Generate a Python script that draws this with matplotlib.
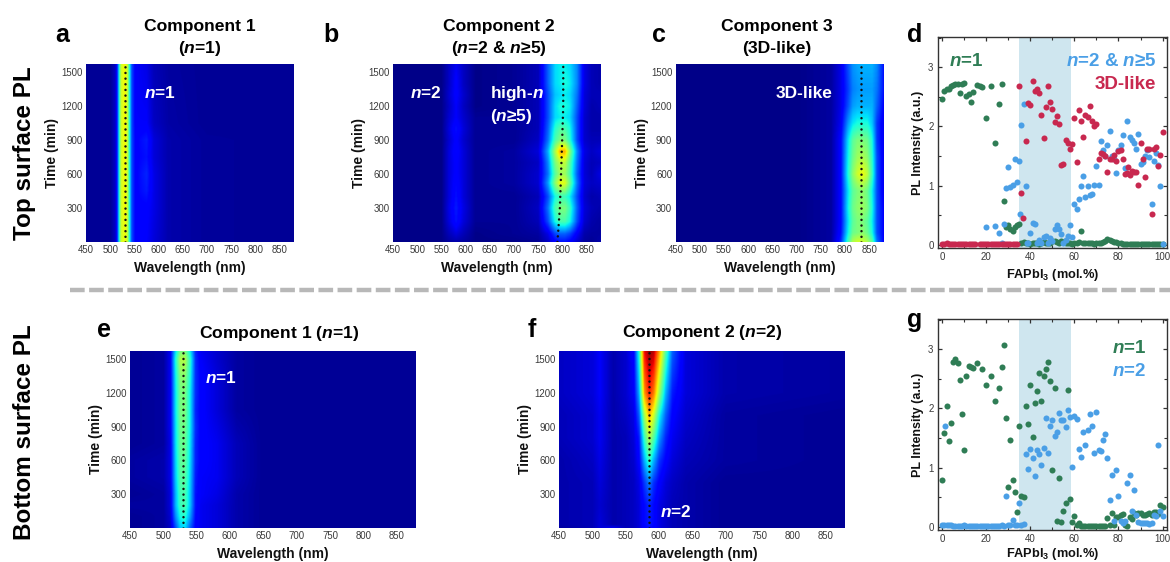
import numpy as np
import matplotlib
matplotlib.use("Agg")
import matplotlib.pyplot as plt
from matplotlib.lines import Line2D
from matplotlib.ticker import MultipleLocator

plt.rcParams.update({
    'font.family': ['Liberation Sans', 'DejaVu Sans'],
    'mathtext.fontset': 'custom',
    'mathtext.rm': 'Liberation Sans:bold',
    'mathtext.it': 'Liberation Sans:italic:bold',
    'mathtext.bf': 'Liberation Sans:bold',
    'mathtext.default': 'regular',
})

W, H = 1170, 562
GREEN, BLUE, RED = '#2f7d55', '#4a9fe6', '#c8284f'
SHADE = '#cfe6ef'
TICK = '#3a3a3a'

# ---------- heat map data: intensity read at wavelength / time nodes ----------
a_wl = [450, 500, 510, 514, 518, 522, 530, 535, 539, 544, 552, 575, 590, 620, 700, 879]
a_t = [0, 300, 450, 600, 750, 900, 1050, 1573]
a_z = [
    [.02, .02, .06, .15, .38, .60, .64, .60, .40, .20, .12, .11, .08, .04, .025, .02],
    [.02, .02, .06, .15, .38, .60, .65, .60, .40, .20, .12, .12, .09, .04, .025, .02],
    [.02, .02, .06, .15, .38, .60, .65, .60, .40, .20, .12, .15, .09, .04, .025, .02],
    [.02, .02, .06, .15, .38, .60, .65, .60, .40, .20, .12, .16, .09, .04, .025, .02],
    [.02, .02, .06, .15, .38, .60, .65, .60, .40, .20, .12, .14, .08, .04, .025, .02],
    [.02, .02, .06, .15, .38, .60, .65, .60, .40, .20, .12, .15, .08, .04, .025, .02],
    [.02, .02, .06, .15, .38, .60, .65, .60, .40, .20, .11, .11, .06, .035, .02, .02],
    [.02, .02, .06, .15, .38, .60, .65, .60, .40, .20, .11, .09, .05, .03, .02, .02],
]

b_wl = [450, 550, 565, 580, 595, 620, 700, 750, 770, 785, 795, 805, 815, 830, 845, 860, 879]
b_t = [0, 70, 180, 300, 400, 520, 600, 700, 800, 900, 1000, 1100, 1200, 1300, 1400, 1573]
b_z = [
    [.01, .01, .03, .04, .03, .01, .01, .02, .06, .12, .14, .14, .12, .07, .03, .02, .04],
    [.01, .01, .05, .08, .05, .01, .02, .03, .09, .19, .22, .22, .19, .11, .04, .03, .03],
    [.01, .01, .08, .14, .08, .02, .02, .05, .20, .38, .44, .44, .38, .20, .07, .04, .03],
    [.01, .01, .09, .15, .09, .02, .02, .06, .24, .44, .50, .50, .42, .22, .08, .05, .04],
    [.01, .01, .08, .14, .08, .02, .02, .05, .20, .38, .42, .42, .36, .20, .07, .04, .05],
    [.01, .01, .08, .13, .08, .02, .03, .07, .28, .52, .64, .62, .48, .24, .08, .06, .07],
    [.01, .01, .08, .12, .08, .02, .03, .07, .24, .46, .54, .54, .44, .22, .08, .05, .09],
    [.01, .01, .08, .12, .08, .02, .03, .06, .26, .50, .58, .58, .46, .24, .08, .05, .06],
    [.01, .01, .08, .13, .08, .02, .03, .08, .30, .56, .72, .72, .52, .26, .09, .06, .08],
    [.01, .01, .07, .12, .07, .02, .02, .06, .24, .44, .50, .50, .40, .20, .07, .05, .05],
    [.01, .01, .08, .14, .08, .02, .02, .05, .22, .40, .45, .44, .38, .20, .07, .04, .04],
    [.01, .01, .07, .11, .07, .02, .02, .05, .20, .34, .36, .36, .34, .20, .07, .04, .04],
    [.01, .01, .06, .11, .06, .01, .02, .05, .20, .34, .38, .38, .36, .22, .08, .04, .05],
    [.01, .01, .07, .12, .07, .01, .02, .05, .20, .32, .34, .36, .34, .24, .08, .05, .05],
    [.01, .01, .06, .12, .06, .01, .02, .05, .22, .34, .36, .38, .36, .26, .09, .05, .04],
    [.01, .01, .06, .10, .06, .01, .02, .05, .22, .34, .36, .36, .34, .26, .09, .05, .04],
]

c_wl = [450, 700, 770, 790, 805, 815, 825, 835, 845, 855, 865, 879]
c_t = [0, 80, 180, 300, 450, 600, 750, 900, 1050, 1200, 1350, 1573]
c_z = [
    [.01, .01, .03, .16, .42, .56, .60, .60, .56, .46, .24, .12],
    [.01, .01, .03, .13, .36, .48, .50, .52, .48, .38, .20, .12],
    [.01, .01, .03, .12, .34, .46, .50, .50, .46, .36, .20, .12],
    [.01, .01, .03, .12, .36, .48, .52, .54, .50, .38, .20, .12],
    [.01, .01, .03, .12, .34, .46, .50, .52, .48, .36, .20, .10],
    [.01, .01, .03, .12, .38, .52, .60, .64, .58, .42, .20, .10],
    [.01, .01, .03, .12, .36, .48, .54, .56, .52, .40, .20, .10],
    [.01, .01, .03, .12, .34, .46, .50, .50, .48, .38, .18, .10],
    [.01, .01, .03, .10, .27, .35, .38, .38, .38, .32, .18, .10],
    [.01, .01, .03, .09, .20, .28, .30, .30, .30, .30, .22, .12],
    [.01, .01, .03, .09, .18, .25, .27, .28, .28, .28, .24, .14],
    [.01, .01, .03, .09, .20, .27, .29, .30, .30, .30, .26, .14],
]

e_wl = [450, 500, 510, 518, 525, 532, 540, 548, 556, 580, 610, 650, 879]
e_t = [0, 100, 200, 300, 450, 600, 750, 900, 1050, 1200, 1350, 1500, 1573]
e_z = [
    [.02, .03, .06, .20, .32, .34, .22, .12, .10, .08, .04, .02, .02],
    [.02, .03, .07, .26, .38, .40, .28, .13, .10, .08, .04, .02, .02],
    [.03, .03, .08, .30, .42, .44, .32, .14, .10, .08, .04, .02, .02],
    [.02, .03, .08, .30, .43, .44, .32, .14, .11, .09, .04, .02, .02],
    [.03, .04, .09, .32, .45, .46, .33, .15, .11, .10, .05, .02, .02],
    [.03, .04, .09, .33, .46, .47, .34, .16, .12, .10, .05, .02, .02],
    [.02, .03, .09, .34, .47, .48, .35, .16, .12, .10, .05, .02, .02],
    [.02, .03, .10, .34, .48, .49, .36, .17, .12, .09, .04, .02, .02],
    [.02, .03, .10, .35, .49, .50, .36, .16, .12, .08, .03, .02, .02],
    [.02, .03, .10, .35, .49, .50, .36, .17, .12, .08, .03, .02, .02],
    [.02, .03, .10, .36, .51, .52, .38, .17, .12, .08, .03, .02, .02],
    [.02, .03, .10, .38, .56, .57, .40, .17, .11, .07, .03, .02, .02],
    [.02, .03, .10, .34, .49, .50, .36, .16, .10, .07, .03, .02, .02],
]

f_wl = [450, 500, 511, 531, 550, 562, 570, 578, 585, 592, 600, 610, 620, 640, 700, 879]
f_t = [0, 30, 200, 400, 600, 800, 1000, 1200, 1573]
f_z = [
    [.03, .05, .08, .10, .05, .06, .08, .12, .14, .12, .09, .07, .05, .04, .02, .02],
    [.04, .05, .08, .04, .05, .06, .08, .13, .15, .13, .09, .07, .05, .04, .02, .02],
    [.04, .05, .07, .04, .05, .06, .08, .13, .16, .13, .09, .07, .05, .04, .02, .02],
    [.04, .05, .08, .04, .05, .06, .09, .18, .25, .17, .12, .08, .06, .04, .02, .02],
    [.04, .06, .09, .04, .05, .07, .12, .30, .42, .30, .18, .12, .08, .05, .03, .02],
    [.05, .07, .10, .04, .05, .08, .15, .42, .57, .45, .28, .16, .10, .06, .03, .02],
    [.05, .07, .10, .04, .06, .09, .22, .55, .72, .60, .38, .22, .12, .07, .03, .02],
    [.06, .08, .11, .04, .07, .11, .30, .75, .88, .78, .55, .30, .15, .08, .04, .03],
    [.06, .08, .11, .04, .07, .12, .40, .90, .98, .95, .75, .45, .22, .08, .04, .03],
]

# dotted peak traces: (wavelength, time)
a_peak_wl, a_peak_t = [530, 530], [0, 1573]
b_peak_wl, b_peak_t = [790, 795, 799, 802, 802], [0, 300, 800, 1200, 1573]
c_peak_wl, c_peak_t = [832, 832], [0, 1573]
e_peak_wl, e_peak_t = [530, 530], [0, 1573]
f_peak_wl, f_peak_t = [585, 585], [0, 1573]

wl_ticks = [450, 500, 550, 600, 650, 700, 750, 800, 850]
t_ticks = [300, 600, 900, 1200, 1500]

# ---------- scatter data ----------
d_green_x = [0, 1, 2, 3, 4, 5, 6, 7, 8, 9, 10, 11, 12, 13, 14, 16, 17, 18, 20, 22, 24, 26, 27, 28, 29, 30, 31, 32, 33, 34, 35,
             36, 37, 38, 39, 40, 41, 42, 43, 44, 45, 46, 47, 48, 49, 50, 51, 52, 53, 54, 55, 56, 57, 58, 59, 60, 61, 62, 63, 64, 65,
             66, 67, 68, 69, 70, 71, 72, 73, 74, 75, 76, 77, 78, 79, 80, 81, 82, 83, 84, 85, 86, 87, 88, 89, 90, 91, 92, 93, 94, 95, 96, 97, 98, 99, 100]
d_green_y = [2.46, 2.6, 2.63, 2.64, 2.68, 2.7, 2.71, 2.72, 2.57, 2.72, 2.73, 2.52, 2.54, 2.42, 2.58, 2.7, 2.68, 2.67, 2.14, 2.68, 1.72, 2.38, 2.72, .75, .3, .33, .27, .23, .3, .34, .36,
             .03, .05, .04, .03, .02, .03, .04, .03, .02, .03, .05, .04, .03, .04, .06, .07, .05, .04, .06, .05, .04, .03, .04, .02, .03, .04, .05, .23, .04, .03,
             .04, .03, .03, .02, .03, .03, .04, .05, .07, .1, .08, .07, .05, .05, .03, .03, .02, .02, .02, .02, .02, .02, .02, .02, .02, .02, .02, .02, .02, .02, .02, .02, .02, .02, .02]
d_blue_x = [20, 24, 26, 27, 28, 29, 30, 31, 32, 33, 34, 35, 35.5, 36, 37, 38, 38.5, 39, 40, 41, 42, 43, 44, 45, 46, 47, 48, 49, 50, 51, 52, 53, 54, 55, 56, 57, 58, 59,
            60, 61, 62, 63, 64, 65, 66, 67, 68, 69, 70, 71, 72, 73, 74, 75, 76, 77, 78, 79, 80, 81, 82, 83, 84, 85, 86, 87, 88, 89, 90, 91, 92, 93, 94, 95, 96, 97, 98, 99, 100]
d_blue_y = [.31, .32, .2, .03, .35, .96, 1.31, .98, 1.02, 1.46, 1.06, 1.41, .52, 2.03, 2.38, 1.0, .03, .04, .2, .37, .35, .03, .08, .03, .14, .15, .03, .12, .06, .27, .33, .27, .19, .03, .08, .16, .33, .14,
            .7, .6, .77, .99, 1.16, .81, .99, .85, .86, 1.02, 1.34, 1.01, 1.75, 1.6, 1.5, 1.69, 1.93, 1.5, 1.45, 1.22, 1.6, 1.69, 1.85, 1.3, 2.09, 1.83, 1.78, 1.72, 1.62, 1.87, 1.36, 1.4, 1.5, 1.6, 1.48, .69, 1.42, 1.55, 1.35, 1.0, .02]
d_red_x = [0, 1, 2, 3, 4, 5, 6, 7, 8, 9, 10, 11, 12, 13, 14, 15, 17, 18, 19, 20, 21, 22, 23, 24, 25, 26, 27, 28, 29, 30, 31, 32, 33, 34,
           35, 36, 36.5, 38, 39, 40, 41, 42, 43, 44, 45, 46, 47, 48, 49, 50, 51, 52, 53, 54, 55, 56, 57, 58, 59, 60, 61, 62, 63, 64, 65, 66, 67, 68, 69, 70,
           71, 72, 73, 74, 75, 76, 77, 78, 79, 80, 81, 82, 83, 84, 84.5, 85, 86, 87, 88, 89, 90, 91, 92, 93, 94, 95, 96, 97, 98, 99, 100]
d_red_y = [.02, .02, .03, .02, .02, .02, .02, .02, .02, .02, .02, .02, .02, .02, .02, .02, .02, .02, .02, .02, .02, .02, .02, .02, .02, .02, .02, .02, .02, .02, .02, .02, .02, .02,
           2.68, .88, .46, 1.75, 2.4, 2.37, 2.77, 2.6, 2.63, 2.57, 2.19, 1.8, 2.33, 2.68, 2.41, 2.3, 2.08, 2.17, 2.04, 1.35, 1.37, 1.78, 1.72, 1.62, 1.7, 2.15, 1.4, 2.28, 2.1, 1.83, 2.2, 2.16, 2.34, 2.1, 2.0, 2.05,
           1.45, 1.55, 1.53, 1.5, 1.24, 1.45, 1.45, 1.52, 1.42, 1.58, 1.6, 1.45, 1.2, 1.22, 1.32, 1.18, 1.25, 1.23, 1.23, 1.02, 1.72, 1.45, 1.14, 1.62, 1.62, .52, 1.62, 1.65, 1.33, 1.52, 1.9]

g_green_x = [0, 1, 2, 3, 4, 5, 6, 7, 8, 9, 10, 11, 12, 13, 14, 16, 18, 20, 22, 24, 26, 27, 28, 29, 30, 31, 32, 33, 34, 35, 36, 37, 38, 39, 40, 41, 42, 43, 44, 45, 46, 47, 48, 49, 50, 51, 52, 53, 54, 55, 56, 57, 58, 59, 60, 61, 62,
             63, 64, 65, 66, 67, 68, 69, 70, 71, 72, 73, 74, 75, 76, 77, 78, 79, 80, 81, 82, 83, 84, 85, 86, 87, 88, 89, 90, 91, 92, 93, 94, 95, 96, 97, 98, 99, 100]
g_green_y = [.8, 1.58, 2.05, 1.45, 1.76, 2.79, 2.84, 2.76, 2.48, 1.91, 1.3, 2.54, 2.72, 2.7, 2.68, 2.77, 2.67, 2.4, 2.54, 2.12, 2.35, 2.7, 3.07, 1.84, .67, 1.47, .8, .59, .26, 1.7, .53, .5, 2.04, 1.73, 2.4, 1.52, 2.1, 2.29, 2.6, 2.12, 2.55, 2.66, 2.78, 2.47, .97, 2.34, .1, .82, .09, .27, .4, 2.32, .48, .09, .18, .03, .06,
             .02, .02, .02, .02, .02, .02, .02, .02, .02, .02, .02, .02, .16, .04, .24, .04, .17, .17, .2, .22, .04, .02, .17, .13, .24, .2, .24, .24, .2, .2, .22, .24, .2, .26, .26, .22, .37, .33]
g_blue_x = [0, 1, 1.5, 2, 3, 4, 5, 6, 7, 8, 9, 10, 11, 12, 13, 14, 15, 16, 17, 18, 19, 20, 21, 22, 23, 24, 25, 26, 27, 28, 29, 30, 31, 32, 33, 34, 35, 36, 37, 38, 39, 40, 41, 42, 43, 44, 45, 46, 47, 48, 49, 50, 51, 52, 53, 54, 55, 56, 57, 58, 59, 60, 61,
            62, 63, 64, 65, 66, 67, 68, 69, 70, 71, 72, 73, 74, 75, 76, 77, 78, 79, 80, 81, 82, 83, 84, 85, 86, 87, 88, 89, 90, 91, 92, 93, 94, 95, 96, 97, 98, 99, 100]
g_blue_y = [.03, .04, 1.7, .03, .03, .03, .02, .02, .02, .02, .02, .03, .02, .02, .02, .02, .02, .02, .02, .02, .02, .02, .02, .02, .02, .02, .02, .02, .03, .02, .52, .03, .03, .12, .03, .03, .4, .04, .05, 1.23, .98, 1.32, 1.16, .86, 1.3, 1.24, 1.05, 1.33, 1.84, 1.25, 1.7, 1.8, 1.54, 1.6, 1.92, 1.8, 1.81, 1.68, 1.97, 1.86, 1.01, 1.88, 1.82,
            1.32, 1.19, 1.6, 1.38, 1.64, 1.91, 1.7, 1.25, 1.94, 1.3, 1.28, 1.47, 1.57, 1.17, .46, .88, .1, .96, .52, .1, .07, .1, .75, .87, .27, .63, .2, .08, .07, .06, .07, .07, .05, .07, .2, .18, 1.39, .27, .18]

window = (35, 58.5)

fig = plt.figure(figsize=(W / 100, H / 100), dpi=100, facecolor='white')


def box(x0, y0, x1, y1):
    return [x0 / W, 1 - y1 / H, (x1 - x0) / W, (y1 - y0) / H]


def T(x, y, s, **kw):
    kw.setdefault('ha', 'left')
    kw.setdefault('va', 'baseline')
    kw.setdefault('fontweight', 'bold')
    kw.setdefault('color', 'black')
    return fig.text(x / W, 1 - y / H, s, **kw)


def heat(rect, wl, t, z, peak_wl, peak_t):
    ax = fig.add_axes(box(*rect))
    z = np.asarray(z, float)
    gx = np.arange(450, 880, 1.0)
    gy = np.arange(0, 1575, 5.0)
    byrow = np.array([np.interp(gx, wl, r) for r in z])
    grid = np.array([np.interp(gy, t, c) for c in byrow.T]).T
    ax.imshow(grid, cmap='jet', vmin=0, vmax=1, origin='lower', aspect='auto',
              extent=(450, 879, 0, 1573), interpolation='bilinear')
    ax.plot(peak_wl, peak_t, color='#101010', lw=1.8, linestyle=(0, (0.01, 2.25)),
            dash_capstyle='round')
    ax.set_xlim(450, 879)
    ax.set_ylim(0, 1573)
    ax.set_xticks(wl_ticks)
    ax.set_yticks(t_ticks)
    ax.tick_params(length=0, labelsize=6.9, labelcolor=TICK, pad=2.5)
    for s in ax.spines.values():
        s.set_visible(False)
    ax.set_xlabel('Wavelength (nm)', fontsize=10, fontweight='bold', labelpad=4, color='#111111')
    ax.set_ylabel('Time (min)', fontsize=10, fontweight='bold', labelpad=1.5, color='#111111')
    return ax


heat((86, 64, 293.5, 242), a_wl, a_t, a_z, a_peak_wl, a_peak_t)
heat((393, 64, 600.5, 242), b_wl, b_t, b_z, b_peak_wl, b_peak_t)
heat((675.7, 64, 883.3, 242), c_wl, c_t, c_z, c_peak_wl, c_peak_t)
heat((130, 351, 416, 528), e_wl, e_t, e_z, e_peak_wl, e_peak_t)
heat((559, 351, 845, 528), f_wl, f_t, f_z, f_peak_wl, f_peak_t)


def scat(rect, series, xlabel, xpad):
    ax = fig.add_axes(box(*rect))
    ax.axvspan(*window, color=SHADE, lw=0, zorder=0)
    for i, (x, y, c) in enumerate(series):
        ax.scatter(x, y, s=19, color=c, lw=0, zorder=2 + i, clip_on=False)
    ax.set_xlim(-2, 102)
    ax.set_ylim(-0.05, 3.51)
    ax.set_xticks([0, 20, 40, 60, 80, 100])
    ax.set_yticks([0, 1, 2, 3])
    ax.xaxis.set_minor_locator(MultipleLocator(10))
    ax.yaxis.set_minor_locator(MultipleLocator(0.5))
    ax.tick_params(which='major', direction='in', length=3, width=0.9, color='#333333',
                   labelsize=7, labelcolor=TICK, pad=3, top=True, right=True)
    ax.tick_params(which='minor', direction='in', length=2, width=0.8, color='#333333', top=True, right=True)
    for s in ax.spines.values():
        s.set_linewidth(1.0)
        s.set_color('#333333')
    ax.set_xlabel(xlabel, fontsize=9.2, fontweight='bold', labelpad=xpad, color='#111111')
    ax.set_ylabel('PL Intensity (a.u.)', fontsize=9.0, fontweight='bold', labelpad=3, color='#111111')
    return ax


scat((937.7, 37, 1167, 248),
     [(d_green_x, d_green_y, GREEN), (d_blue_x, d_blue_y, BLUE), (d_red_x, d_red_y, RED)],
     'FAPbI$_3$ (mol.%)', 3.2)
scat((937.7, 319, 1167, 530),
     [(g_green_x, g_green_y, GREEN), (g_blue_x, g_blue_y, BLUE)],
     'FAPbI$_3$ (mol.%)', 1.0)

# panel letters
for x, y, s in [(55, 42, 'a'), (323, 42, 'b'), (652, 42, 'c'), (907, 42, 'd'),
                (97, 337, 'e'), (528, 337, 'f'), (907, 327, 'g')]:
    T(x, y, s, fontsize=18)

# titles
for x, y, s in [(200, 31, 'Component 1'), (200, 53, '($\\mathit{n}$=1)'),
                (499, 31, 'Component 2'), (499, 53, '($\\mathit{n}$=2 & $\\mathit{n}$≥5)'),
                (777, 31, 'Component 3'), (777, 53, '(3D-like)'),
                (279, 338, 'Component 1 ($\\mathit{n}$=1)'),
                (702, 337, 'Component 2 ($\\mathit{n}$=2)')]:
    T(x, y, s, fontsize=12.6, ha='center')

# white annotations on maps
for x, y, s in [(144, 98, '$\\mathit{n}$=1'), (410, 98, '$\\mathit{n}$=2'),
                (490, 98, 'high-$\\mathit{n}$'), (490, 121, '($\\mathit{n}$≥5)'),
                (776, 98, '3D-like'), (205, 383, '$\\mathit{n}$=1'), (660, 517, '$\\mathit{n}$=2')]:
    T(x, y, s, fontsize=12.4, color='white')

# scatter annotations
T(949, 66, '$\\mathit{n}$=1', fontsize=13.5, color=GREEN)
T(1156, 66, '$\\mathit{n}$=2 & $\\mathit{n}$≥5', fontsize=13.5, color=BLUE, ha='right')
T(1156, 89, '3D-like', fontsize=13.5, color=RED, ha='right')
T(1146, 353, '$\\mathit{n}$=1', fontsize=13.5, color=GREEN, ha='right')
T(1146, 376, '$\\mathit{n}$=2', fontsize=13.5, color=BLUE, ha='right')

# row labels
T(31, 240, 'Top surface PL', fontsize=17.5, rotation=90, rotation_mode='anchor')
T(31, 540, 'Bottom surface PL', fontsize=17.5, rotation=90, rotation_mode='anchor')

# separator
fig.add_artist(Line2D([70 / W, 1170 / W], [1 - 290 / H, 1 - 290 / H], color='#b8b8b8', lw=3.2,
                      linestyle=(0, (3.3, 1.0)), dash_capstyle='butt'))

fig.savefig('out.png', dpi=100)
